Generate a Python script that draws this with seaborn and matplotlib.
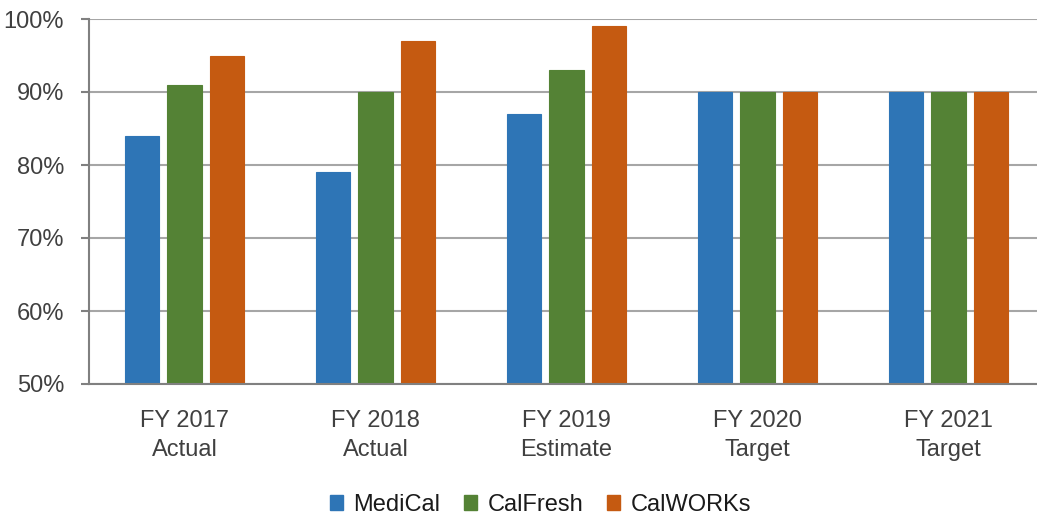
import matplotlib
matplotlib.use("Agg")
import matplotlib.pyplot as plt
import seaborn as sns
import pandas as pd
from matplotlib.patches import Patch

categories = ["FY 2017\nActual", "FY 2018\nActual", "FY 2019\nEstimate", "FY 2020\nTarget", "FY 2021\nTarget"]
series_names = ["MediCal", "CalFresh", "CalWORKs"]
medical = [84, 79, 87, 90, 90]
calfresh = [91, 90, 93, 90, 90]
calworks = [95, 97, 99, 90, 90]
colors = ["#2E75B6", "#548235", "#C55A11"]

rows = []
for name, vals in zip(series_names, [medical, calfresh, calworks]):
    for c, v in zip(categories, vals):
        rows.append({"cat": c, "series": name, "value": v})
df = pd.DataFrame(rows)

sns.set_theme(style="white")
plt.rcParams["font.family"] = ["Liberation Sans", "DejaVu Sans"]

fig = plt.figure(figsize=(10.37, 5.21), dpi=100)
ax = fig.add_axes([89 / 1037, 1 - 384 / 521, 955 / 1037, (384 - 19) / 521])

sns.barplot(data=df, x="cat", y="value", hue="series", order=categories,
            hue_order=series_names, palette=colors, width=0.66, gap=0.19,
            saturation=1, ax=ax, legend=False, linewidth=0.8)
for i, cont in enumerate(ax.containers):
    for p in cont:
        p.set_edgecolor(colors[i])

ax.set_ylim(50, 100)
ax.set_xlim(-0.5, 4.5)
ax.set_yticks([50, 60, 70, 80, 90, 100])
ax.set_yticklabels([f"{v}%" for v in [50, 60, 70, 80, 90, 100]])
ax.yaxis.grid(True, color="#A6A6A6", linewidth=1.5)
ax.set_axisbelow(True)
ax.set_xlabel("")
ax.set_ylabel("")
for s in ["top", "right"]:
    ax.spines[s].set_visible(False)
for s in ["left", "bottom"]:
    ax.spines[s].set_color("#808080")
    ax.spines[s].set_linewidth(1.5)
ax.tick_params(axis="y", which="major", left=True, length=6, width=1.5, color="#808080",
               pad=12, labelsize=17, labelcolor="#404040")
ax.tick_params(axis="x", bottom=False, pad=13, labelsize=17, labelcolor="#404040")
for lbl in ax.get_xticklabels():
    lbl.set_linespacing(1.4)

handles = [Patch(facecolor=c, edgecolor=c, label=n) for c, n in zip(colors, series_names)]
fig.legend(handles=handles, loc="center", bbox_to_anchor=(0.521, 0.031), ncol=3, frameon=False,
           fontsize=17, handlelength=0.55, handleheight=0.55, handletextpad=0.45,
           columnspacing=1.0, labelcolor="#1a1a1a")

fig.savefig("out.png", dpi=100)
